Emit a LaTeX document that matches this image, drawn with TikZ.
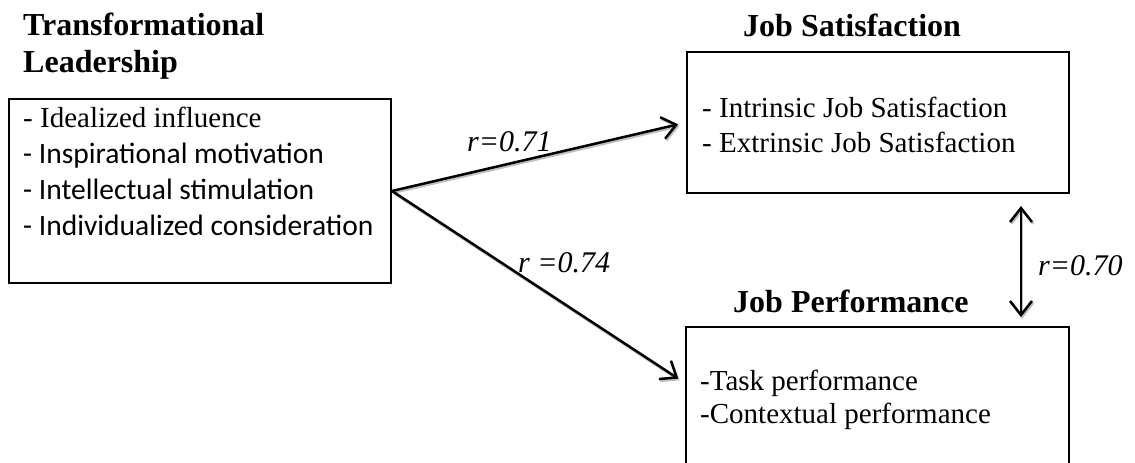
\documentclass[tikz,border=0pt]{standalone}
\usepackage{fontspec}
\setmainfont{Liberation Serif}
\newfontfamily\calibri{Carlito}
\usepackage{tikz}
\usetikzlibrary{arrows.meta,positioning,calc}

\begin{document}
\begin{tikzpicture}[x=1pt,y=-1pt, >={Straight Barb[length=14pt,width=22pt]},
    factorbox/.style={draw,line width=2pt,rectangle,inner sep=0pt},
    heading/.style={font=\fontsize{32}{37}\selectfont\bfseries,inner sep=0pt,align=left,anchor=base west},
    items/.style={font=\fontsize{29}{35}\selectfont,inner sep=0pt,align=left,anchor=base west},
    corr/.style={font=\fontsize{30}{36}\selectfont\itshape,inner sep=0pt,anchor=base west},
    link/.style={line width=2.5pt,preaction={draw=black!25,line width=2.5pt,transform canvas={xshift=1.2pt,yshift=-1.8pt}}}]
        \useasboundingbox (0,0) rectangle (1135,463);
        \clip (0,0) rectangle (1135,463);

        % boxes
        \node[factorbox,minimum width=382pt,minimum height=184pt] (tl) at (200,191)   {};
        \node[factorbox,minimum width=382pt,minimum height=141pt] (js) at (878,122.5) {};
        \node[factorbox,minimum width=383pt,minimum height=143pt] (jp) at (877.5,398.5) {};

        % titles (base = last line)
        \node[heading] (tltitle) at (23,72)  {Transformational\\Leadership};
        \node[heading] (jstitle) at (743,36) {Job Satisfaction};
        \node[heading] (jptitle) at (733,312) {Job Performance};

        % dimensions
        \node[items,font=\fontsize{29}{35.7}\selectfont] (tlitems) at (23,235) {- Idealized influence\\
                                              {\calibri\fontsize{29.5}{35.7}\selectfont - Inspirational motivation}\\
                                              {\calibri\fontsize{29.5}{35.7}\selectfont - Intellectual stimulation}\\
                                              {\calibri\fontsize{29.5}{35.7}\selectfont - Individualized consideration}};
        \node[items] (jsitems) at (702,152) {- Intrinsic Job Satisfaction\\- Extrinsic Job Satisfaction};
        \node[items,font=\fontsize{29}{33}\selectfont] (jpitems) at (700,423) {-Task performance\\-Contextual performance};

        % correlations
        \draw[link,->,shorten >=8pt] (tl.east) -- (js.west);
        \draw[link,->,shorten >=8pt] (tl.east) -- ([yshift=15.5pt]jp.west);
        \draw[link,<->,shorten <=12pt,shorten >=9pt] ([xshift=-49pt]js.south east) -- ([xshift=-49pt]jp.north east);

        \node[corr] (r1) at (467,151)  {r=0.71};
        \node[corr] (r2) at (518,272)  {r =0.74};
        \node[corr] (r3) at (1038,275) {r=0.70};
\end{tikzpicture}
\end{document}
